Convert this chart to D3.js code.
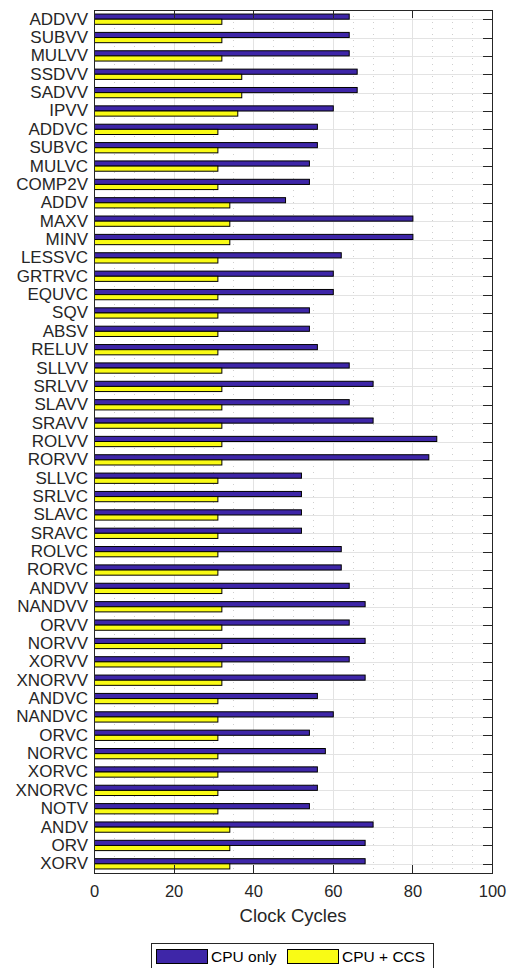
<!DOCTYPE html>
<html>
<head>
<meta charset="utf-8">
<script src="https://cdn.jsdelivr.net/npm/d3@7"></script>
<style>
  body { margin: 0; background: #fff; }
  svg { display: block; font-family: "Liberation Sans", Arial, sans-serif; }
</style>
</head>
<body>
<div id="chart"></div>
<script>
var instructions = ["ADDVV", "SUBVV", "MULVV", "SSDVV", "SADVV", "IPVV", "ADDVC", "SUBVC", "MULVC", "COMP2V",
                    "ADDV", "MAXV", "MINV", "LESSVC", "GRTRVC", "EQUVC", "SQV", "ABSV", "RELUV", "SLLVV",
                    "SRLVV", "SLAVV", "SRAVV", "ROLVV", "RORVV", "SLLVC", "SRLVC", "SLAVC", "SRAVC", "ROLVC",
                    "RORVC", "ANDVV", "NANDVV", "ORVV", "NORVV", "XORVV", "XNORVV", "ANDVC", "NANDVC", "ORVC",
                    "NORVC", "XORVC", "XNORVC", "NOTV", "ANDV", "ORV", "XORV"];

var cpuOnly = [64, 64, 64, 66, 66, 60, 56, 56, 54, 54,
               48, 80, 80, 62, 60, 60, 54, 54, 56, 64,
               70, 64, 70, 86, 84, 52, 52, 52, 52, 62,
               62, 64, 68, 64, 68, 64, 68, 56, 60, 54,
               58, 56, 56, 54, 70, 68, 68];

var cpuCcs = [32, 32, 32, 37, 37, 36, 31, 31, 31, 31,
              34, 34, 34, 31, 31, 31, 31, 31, 31, 32,
              32, 32, 32, 32, 32, 31, 31, 31, 31, 31,
              31, 32, 32, 32, 32, 32, 32, 31, 31, 31,
              31, 31, 31, 31, 34, 34, 34];

var seriesNames = ["CPU only", "CPU + CCS"];
var seriesColors = ["#3E26A8", "#F9FB15"];
var xTicks = [0, 20, 40, 60, 80, 100];
var xMinorTicks = d3.range(0, 101, 5);

var width = 508, height = 968;
var plotL = 94, plotR = 492, plotT = 10, plotB = 873;
var axisColor = "#262626";

var svg = d3.select("#chart").append("svg")
    .attr("width", width)
    .attr("height", height);

var x = d3.scaleLinear().domain([0, 100]).range([plotL, plotR]);
var y = d3.scaleBand().domain(instructions).range([plotT, plotB]).padding(0);
var barH = y.bandwidth() * 0.28;

function rowMid(d) {
  return Math.round(y(d) + y.bandwidth() / 2) + 0.5;
}

// grid
var grid = svg.append("g");
grid.selectAll(".minor")
    .data(xMinorTicks.filter(function(d) { return d % 20 !== 0; }))
    .enter().append("line")
    .attr("x1", function(d) { return Math.round(x(d)) + 0.5; })
    .attr("x2", function(d) { return Math.round(x(d)) + 0.5; })
    .attr("y1", plotT).attr("y2", plotB)
    .attr("stroke", "#cfcfcf")
    .attr("stroke-dasharray", "1,5");
grid.selectAll(".major")
    .data(xTicks.slice(1, -1))
    .enter().append("line")
    .attr("x1", function(d) { return Math.round(x(d)) + 0.5; })
    .attr("x2", function(d) { return Math.round(x(d)) + 0.5; })
    .attr("y1", plotT).attr("y2", plotB)
    .attr("stroke", "#e3e3e3");
grid.selectAll(".hgrid")
    .data(instructions)
    .enter().append("line")
    .attr("x1", plotL).attr("x2", plotR)
    .attr("y1", rowMid)
    .attr("y2", rowMid)
    .attr("stroke", "#e3e3e3");

// bars
var series = [cpuOnly, cpuCcs];
var bars = svg.append("g");
series.forEach(function(vals, s) {
  bars.selectAll(".bar" + s)
      .data(instructions)
      .enter().append("rect")
      .attr("x", x(0) + 0.5)
      .attr("y", function(d) { return y(d) + y.bandwidth() / 2 - barH + s * barH; })
      .attr("width", function(d, i) { return x(vals[i]) - x(0); })
      .attr("height", barH)
      .attr("fill", seriesColors[s])
      .attr("stroke", "#000")
      .attr("stroke-width", 1);
});

// axes
var xAxis = d3.axisBottom(x).tickValues(xTicks).tickSize(0).tickPadding(12);
var gx = svg.append("g")
    .attr("transform", "translate(0," + plotB + ")")
    .call(xAxis);
gx.select(".domain").remove();
gx.selectAll("text")
    .attr("fill", axisColor)
    .style("font-size", "16.5px");

var yAxis = d3.axisLeft(y).tickSize(0).tickPadding(6);
var gy = svg.append("g")
    .attr("transform", "translate(" + plotL + ",0)")
    .call(yAxis);
gy.select(".domain").remove();
gy.selectAll("text")
    .attr("fill", axisColor)
    .style("font-size", "17px");

// tick marks on the box
var ticks = svg.append("g").attr("stroke", axisColor);
ticks.selectAll(".tt")
    .data(xTicks.slice(1, -1))
    .enter().append("line")
    .attr("x1", function(d) { return Math.round(x(d)) + 0.5; })
    .attr("x2", function(d) { return Math.round(x(d)) + 0.5; })
    .attr("y1", plotT).attr("y2", plotT + 8);
ticks.selectAll(".bt")
    .data(xTicks.slice(1, -1))
    .enter().append("line")
    .attr("x1", function(d) { return Math.round(x(d)) + 0.5; })
    .attr("x2", function(d) { return Math.round(x(d)) + 0.5; })
    .attr("y1", plotB).attr("y2", plotB - 8);
ticks.selectAll(".rt")
    .data(instructions)
    .enter().append("line")
    .attr("x1", plotR).attr("x2", plotR - 9)
    .attr("y1", rowMid)
    .attr("y2", rowMid);

svg.append("rect")
    .attr("x", plotL + 0.5).attr("y", plotT + 0.5)
    .attr("width", plotR - plotL).attr("height", plotB - plotT)
    .attr("fill", "none")
    .attr("stroke", axisColor)
    .attr("stroke-width", 1);

svg.append("text")
    .attr("x", (plotL + plotR) / 2)
    .attr("y", 922)
    .attr("text-anchor", "middle")
    .attr("fill", axisColor)
    .style("font-size", "18.5px")
    .text("Clock Cycles");

// legend
var legend = svg.append("g");
legend.append("rect")
    .attr("x", 151.5).attr("y", 943.5)
    .attr("width", 282).attr("height", 30)
    .attr("fill", "#fff")
    .attr("stroke", "#262626");
var legendX = [156, 287];
seriesNames.forEach(function(name, s) {
  legend.append("rect")
      .attr("x", legendX[s] + 0.5).attr("y", 949.5)
      .attr("width", 51).attr("height", 14)
      .attr("fill", seriesColors[s])
      .attr("stroke", "#000");
  legend.append("text")
      .attr("x", legendX[s] + 55)
      .attr("y", 962)
      .attr("fill", "#000")
      .style("font-size", "15.5px")
      .text(name);
});
</script>
</body>
</html>
